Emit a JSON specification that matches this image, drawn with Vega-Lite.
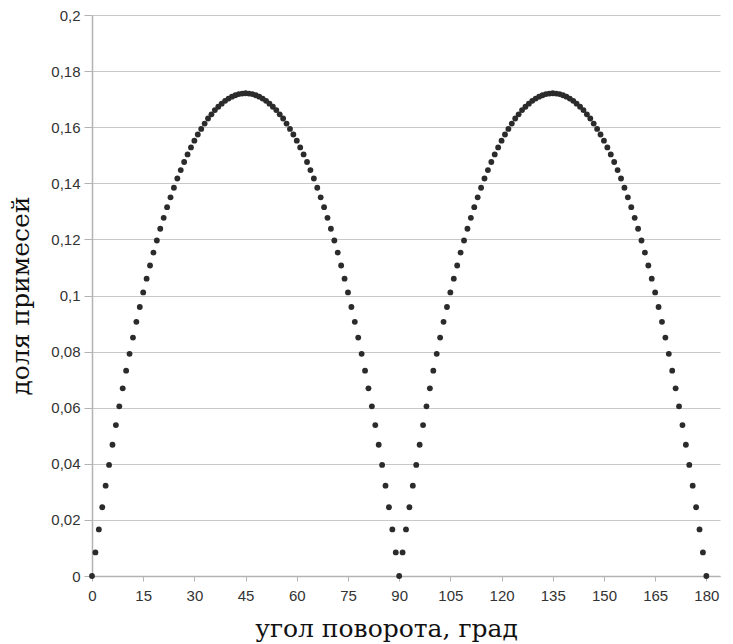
{
  "$schema": "https://vega.github.io/schema/vega-lite/v6.json",
  "width": 628,
  "height": 561,
  "autosize": "none",
  "padding": {"left": 92, "top": 15, "right": 13, "bottom": 68},
  "background": "white",
  "config": {"view": {"stroke": null}},
  "data": {"values": [
    {"angle": 0, "share": 0},
    {"angle": 1, "share": 0.0084},
    {"angle": 2, "share": 0.0166},
    {"angle": 3, "share": 0.0245},
    {"angle": 4, "share": 0.0322},
    {"angle": 5, "share": 0.0396},
    {"angle": 6, "share": 0.0468},
    {"angle": 7, "share": 0.0538},
    {"angle": 8, "share": 0.0605},
    {"angle": 9, "share": 0.0669},
    {"angle": 10, "share": 0.0732},
    {"angle": 11, "share": 0.0792},
    {"angle": 12, "share": 0.0850},
    {"angle": 13, "share": 0.0906},
    {"angle": 14, "share": 0.0959},
    {"angle": 15, "share": 0.1011},
    {"angle": 16, "share": 0.1060},
    {"angle": 17, "share": 0.1107},
    {"angle": 18, "share": 0.1153},
    {"angle": 19, "share": 0.1196},
    {"angle": 20, "share": 0.1238},
    {"angle": 21, "share": 0.1277},
    {"angle": 22, "share": 0.1315},
    {"angle": 23, "share": 0.1350},
    {"angle": 24, "share": 0.1384},
    {"angle": 25, "share": 0.1417},
    {"angle": 26, "share": 0.1447},
    {"angle": 27, "share": 0.1476},
    {"angle": 28, "share": 0.1503},
    {"angle": 29, "share": 0.1528},
    {"angle": 30, "share": 0.1552},
    {"angle": 31, "share": 0.1574},
    {"angle": 32, "share": 0.1594},
    {"angle": 33, "share": 0.1613},
    {"angle": 34, "share": 0.1631},
    {"angle": 35, "share": 0.1646},
    {"angle": 36, "share": 0.1661},
    {"angle": 37, "share": 0.1673},
    {"angle": 38, "share": 0.1684},
    {"angle": 39, "share": 0.1694},
    {"angle": 40, "share": 0.1702},
    {"angle": 41, "share": 0.1709},
    {"angle": 42, "share": 0.1714},
    {"angle": 43, "share": 0.1718},
    {"angle": 44, "share": 0.1720},
    {"angle": 45, "share": 0.1721},
    {"angle": 46, "share": 0.1720},
    {"angle": 47, "share": 0.1718},
    {"angle": 48, "share": 0.1714},
    {"angle": 49, "share": 0.1709},
    {"angle": 50, "share": 0.1702},
    {"angle": 51, "share": 0.1694},
    {"angle": 52, "share": 0.1684},
    {"angle": 53, "share": 0.1673},
    {"angle": 54, "share": 0.1661},
    {"angle": 55, "share": 0.1646},
    {"angle": 56, "share": 0.1631},
    {"angle": 57, "share": 0.1613},
    {"angle": 58, "share": 0.1594},
    {"angle": 59, "share": 0.1574},
    {"angle": 60, "share": 0.1552},
    {"angle": 61, "share": 0.1528},
    {"angle": 62, "share": 0.1503},
    {"angle": 63, "share": 0.1476},
    {"angle": 64, "share": 0.1447},
    {"angle": 65, "share": 0.1417},
    {"angle": 66, "share": 0.1384},
    {"angle": 67, "share": 0.1350},
    {"angle": 68, "share": 0.1315},
    {"angle": 69, "share": 0.1277},
    {"angle": 70, "share": 0.1238},
    {"angle": 71, "share": 0.1196},
    {"angle": 72, "share": 0.1153},
    {"angle": 73, "share": 0.1107},
    {"angle": 74, "share": 0.1060},
    {"angle": 75, "share": 0.1011},
    {"angle": 76, "share": 0.0959},
    {"angle": 77, "share": 0.0906},
    {"angle": 78, "share": 0.0850},
    {"angle": 79, "share": 0.0792},
    {"angle": 80, "share": 0.0732},
    {"angle": 81, "share": 0.0669},
    {"angle": 82, "share": 0.0605},
    {"angle": 83, "share": 0.0538},
    {"angle": 84, "share": 0.0468},
    {"angle": 85, "share": 0.0396},
    {"angle": 86, "share": 0.0322},
    {"angle": 87, "share": 0.0245},
    {"angle": 88, "share": 0.0166},
    {"angle": 89, "share": 0.0084},
    {"angle": 90, "share": 0},
    {"angle": 91, "share": 0.0084},
    {"angle": 92, "share": 0.0166},
    {"angle": 93, "share": 0.0245},
    {"angle": 94, "share": 0.0322},
    {"angle": 95, "share": 0.0396},
    {"angle": 96, "share": 0.0468},
    {"angle": 97, "share": 0.0538},
    {"angle": 98, "share": 0.0605},
    {"angle": 99, "share": 0.0669},
    {"angle": 100, "share": 0.0732},
    {"angle": 101, "share": 0.0792},
    {"angle": 102, "share": 0.0850},
    {"angle": 103, "share": 0.0906},
    {"angle": 104, "share": 0.0959},
    {"angle": 105, "share": 0.1011},
    {"angle": 106, "share": 0.1060},
    {"angle": 107, "share": 0.1107},
    {"angle": 108, "share": 0.1153},
    {"angle": 109, "share": 0.1196},
    {"angle": 110, "share": 0.1238},
    {"angle": 111, "share": 0.1277},
    {"angle": 112, "share": 0.1315},
    {"angle": 113, "share": 0.1350},
    {"angle": 114, "share": 0.1384},
    {"angle": 115, "share": 0.1417},
    {"angle": 116, "share": 0.1447},
    {"angle": 117, "share": 0.1476},
    {"angle": 118, "share": 0.1503},
    {"angle": 119, "share": 0.1528},
    {"angle": 120, "share": 0.1552},
    {"angle": 121, "share": 0.1574},
    {"angle": 122, "share": 0.1594},
    {"angle": 123, "share": 0.1613},
    {"angle": 124, "share": 0.1631},
    {"angle": 125, "share": 0.1646},
    {"angle": 126, "share": 0.1661},
    {"angle": 127, "share": 0.1673},
    {"angle": 128, "share": 0.1684},
    {"angle": 129, "share": 0.1694},
    {"angle": 130, "share": 0.1702},
    {"angle": 131, "share": 0.1709},
    {"angle": 132, "share": 0.1714},
    {"angle": 133, "share": 0.1718},
    {"angle": 134, "share": 0.1720},
    {"angle": 135, "share": 0.1721},
    {"angle": 136, "share": 0.1720},
    {"angle": 137, "share": 0.1718},
    {"angle": 138, "share": 0.1714},
    {"angle": 139, "share": 0.1709},
    {"angle": 140, "share": 0.1702},
    {"angle": 141, "share": 0.1694},
    {"angle": 142, "share": 0.1684},
    {"angle": 143, "share": 0.1673},
    {"angle": 144, "share": 0.1661},
    {"angle": 145, "share": 0.1646},
    {"angle": 146, "share": 0.1631},
    {"angle": 147, "share": 0.1613},
    {"angle": 148, "share": 0.1594},
    {"angle": 149, "share": 0.1574},
    {"angle": 150, "share": 0.1552},
    {"angle": 151, "share": 0.1528},
    {"angle": 152, "share": 0.1503},
    {"angle": 153, "share": 0.1476},
    {"angle": 154, "share": 0.1447},
    {"angle": 155, "share": 0.1417},
    {"angle": 156, "share": 0.1384},
    {"angle": 157, "share": 0.1350},
    {"angle": 158, "share": 0.1315},
    {"angle": 159, "share": 0.1277},
    {"angle": 160, "share": 0.1238},
    {"angle": 161, "share": 0.1196},
    {"angle": 162, "share": 0.1153},
    {"angle": 163, "share": 0.1107},
    {"angle": 164, "share": 0.1060},
    {"angle": 165, "share": 0.1011},
    {"angle": 166, "share": 0.0959},
    {"angle": 167, "share": 0.0906},
    {"angle": 168, "share": 0.0850},
    {"angle": 169, "share": 0.0792},
    {"angle": 170, "share": 0.0732},
    {"angle": 171, "share": 0.0669},
    {"angle": 172, "share": 0.0605},
    {"angle": 173, "share": 0.0538},
    {"angle": 174, "share": 0.0468},
    {"angle": 175, "share": 0.0396},
    {"angle": 176, "share": 0.0322},
    {"angle": 177, "share": 0.0245},
    {"angle": 178, "share": 0.0166},
    {"angle": 179, "share": 0.0084},
    {"angle": 180, "share": 0}
  ]},
  "mark": {"type": "circle", "size": 34, "color": "#2b2b2b", "opacity": 1},
  "encoding": {
    "x": {
      "field": "angle",
      "type": "quantitative",
      "scale": {"domain": [0, 184], "nice": false, "zero": true},
      "axis": {
        "title": "угол поворота, град",
        "titleFont": "DejaVu Serif",
        "titleFontSize": 25,
        "titleFontWeight": "normal",
        "titleColor": "#111111",
        "titleBaseline": "alphabetic",
        "titleAlign": "center",
        "titleX": 294,
        "titleY": 60,
        "values": [0, 15, 30, 45, 60, 75, 90, 105, 120, 135, 150, 165, 180],
        "labelFlush": false,
        "labelFont": "Liberation Sans",
        "labelFontSize": 15,
        "labelColor": "#333333",
        "labelPadding": 7,
        "tickSize": 5,
        "tickColor": "#b3b3b3",
        "domainColor": "#b3b3b3",
        "domainWidth": 1.5,
        "grid": false
      }
    },
    "y": {
      "field": "share",
      "type": "quantitative",
      "scale": {"domain": [0, 0.2], "nice": false},
      "axis": {
        "title": "доля примесей",
        "titleFont": "DejaVu Serif",
        "titleFontSize": 25,
        "titleFontWeight": "normal",
        "titleColor": "#111111",
        "titleBaseline": "alphabetic",
        "titleX": -64,
        "values": [0, 0.02, 0.04, 0.06, 0.08, 0.1, 0.12, 0.14, 0.16, 0.18, 0.2],
        "labelExpr": "replace(format(datum.value, '.2~f'), '.', ',')",
        "labelFlush": false,
        "labelFont": "Liberation Sans",
        "labelFontSize": 15,
        "labelColor": "#333333",
        "labelPadding": 4,
        "tickSize": 8,
        "tickColor": "#b3b3b3",
        "domainColor": "#b3b3b3",
        "domainWidth": 1.5,
        "grid": true,
        "gridColor": "#c8c8c8",
        "gridWidth": 1.2
      }
    }
  }
}
